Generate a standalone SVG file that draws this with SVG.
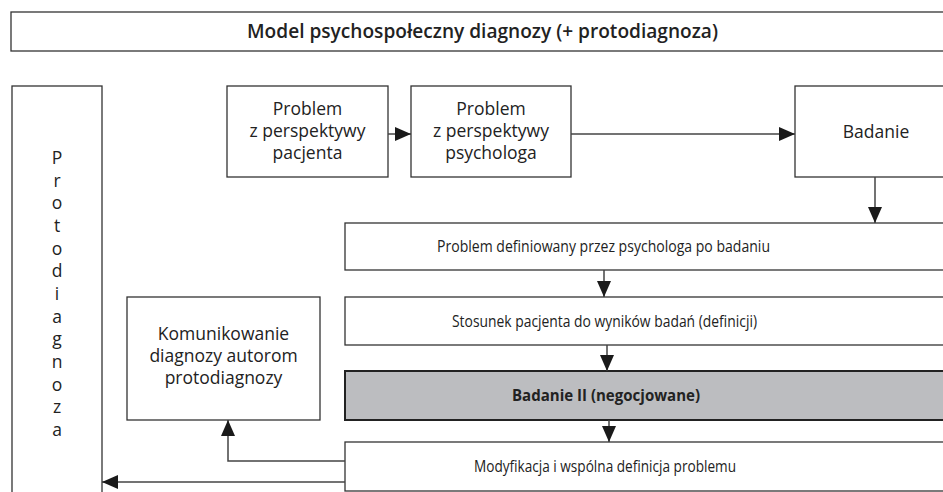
<svg xmlns="http://www.w3.org/2000/svg" width="943" height="492" viewBox="0 0 943 492">
<defs>
<style>
.box{fill:#fff;stroke:#333;stroke-width:1.3}
.grey{fill:#bcbdc0;stroke:#222;stroke-width:2}
.t{font-family:"Open Sans","Noto Sans",sans-serif;font-size:15.5px;fill:#222;text-anchor:middle}
.L{font-size:17.5px}
.H{font-size:19px;font-weight:600}
.b{font-weight:700}
.c{fill:none;stroke:#444;stroke-width:1.5}
</style>
<marker id="ah" markerUnits="userSpaceOnUse" markerWidth="16" markerHeight="14" refX="16" refY="7" orient="auto">
<path d="M0,0 L16,7 L0,14 z" fill="#1a1a1a"/>
</marker>
</defs>
<rect width="943" height="492" fill="#fff"/>
<g id="title">
<rect class="box" x="11" y="12" width="960" height="39"/>
<text class="t H" x="482.5" y="38" textLength="471" lengthAdjust="spacingAndGlyphs">Model psychospołeczny diagnozy (+ protodiagnoza)</text>
</g>
<g id="protodiagnoza">
<rect class="box" x="12" y="86" width="90" height="420"/>
<text class="t L" x="57" y="164">P</text>
<text class="t L" x="57" y="186.7">r</text>
<text class="t L" x="57" y="209.3">o</text>
<text class="t L" x="57" y="232">t</text>
<text class="t L" x="57" y="254.7">o</text>
<text class="t L" x="57" y="277.3">d</text>
<text class="t L" x="57" y="300">i</text>
<text class="t L" x="57" y="322.7">a</text>
<text class="t L" x="57" y="345.3">g</text>
<text class="t L" x="57" y="368">n</text>
<text class="t L" x="57" y="390.7">o</text>
<text class="t L" x="57" y="413.3">z</text>
<text class="t L" x="57" y="436">a</text>
</g>
<g id="problem-pacjenta">
<rect class="box" x="227" y="86" width="161" height="91"/>
<text class="t L" x="307.5" y="115">Problem</text>
<text class="t L" x="307.5" y="137">z perspektywy</text>
<text class="t L" x="307.5" y="159">pacjenta</text>
</g>
<g id="problem-psychologa">
<rect class="box" x="411" y="86" width="160" height="91"/>
<text class="t L" x="491" y="115">Problem</text>
<text class="t L" x="491" y="137">z perspektywy</text>
<text class="t L" x="491" y="159">psychologa</text>
</g>
<g id="badanie">
<rect class="box" x="795" y="86" width="162" height="91"/>
<text class="t L" x="876" y="138">Badanie</text>
</g>
<g id="problem-definiowany">
<rect class="box" x="345" y="223" width="620" height="47"/>
<text class="t" x="603.5" y="252" textLength="333" lengthAdjust="spacingAndGlyphs">Problem definiowany przez psychologa po badaniu</text>
</g>
<g id="stosunek">
<rect class="box" x="345" y="297" width="620" height="48"/>
<text class="t" x="604.5" y="326.5" textLength="305" lengthAdjust="spacingAndGlyphs">Stosunek pacjenta do wyników badań (definicji)</text>
</g>
<g id="badanie-ii">
<rect class="grey" x="345" y="371" width="620" height="49"/>
<text class="t b" x="606" y="401" textLength="188" lengthAdjust="spacingAndGlyphs">Badanie II (negocjowane)</text>
</g>
<g id="modyfikacja">
<rect class="box" x="345" y="442" width="620" height="49"/>
<text class="t" x="605" y="472" textLength="262" lengthAdjust="spacingAndGlyphs">Modyfikacja i wspólna definicja problemu</text>
</g>
<g id="komunikowanie">
<rect class="box" x="127" y="297" width="193" height="123"/>
<text class="t L" x="223.5" y="340">Komunikowanie</text>
<text class="t L" x="223.5" y="362">diagnozy autorom</text>
<text class="t L" x="223.5" y="384">protodiagnozy</text>
</g>
<g id="connectors">
<path class="c" d="M388,134 H411" marker-end="url(#ah)"/>
<path class="c" d="M571,134 H795" marker-end="url(#ah)"/>
<path class="c" d="M875,177 V223" marker-end="url(#ah)"/>
<path class="c" d="M604,270 V297" marker-end="url(#ah)"/>
<path class="c" d="M607,345 V371" marker-end="url(#ah)"/>
<path class="c" d="M609,420 V442" marker-end="url(#ah)"/>
<path class="c" d="M345,461 H228 V420" marker-end="url(#ah)"/>
<path class="c" d="M345,482 H102" marker-end="url(#ah)"/>
</g>
</svg>
